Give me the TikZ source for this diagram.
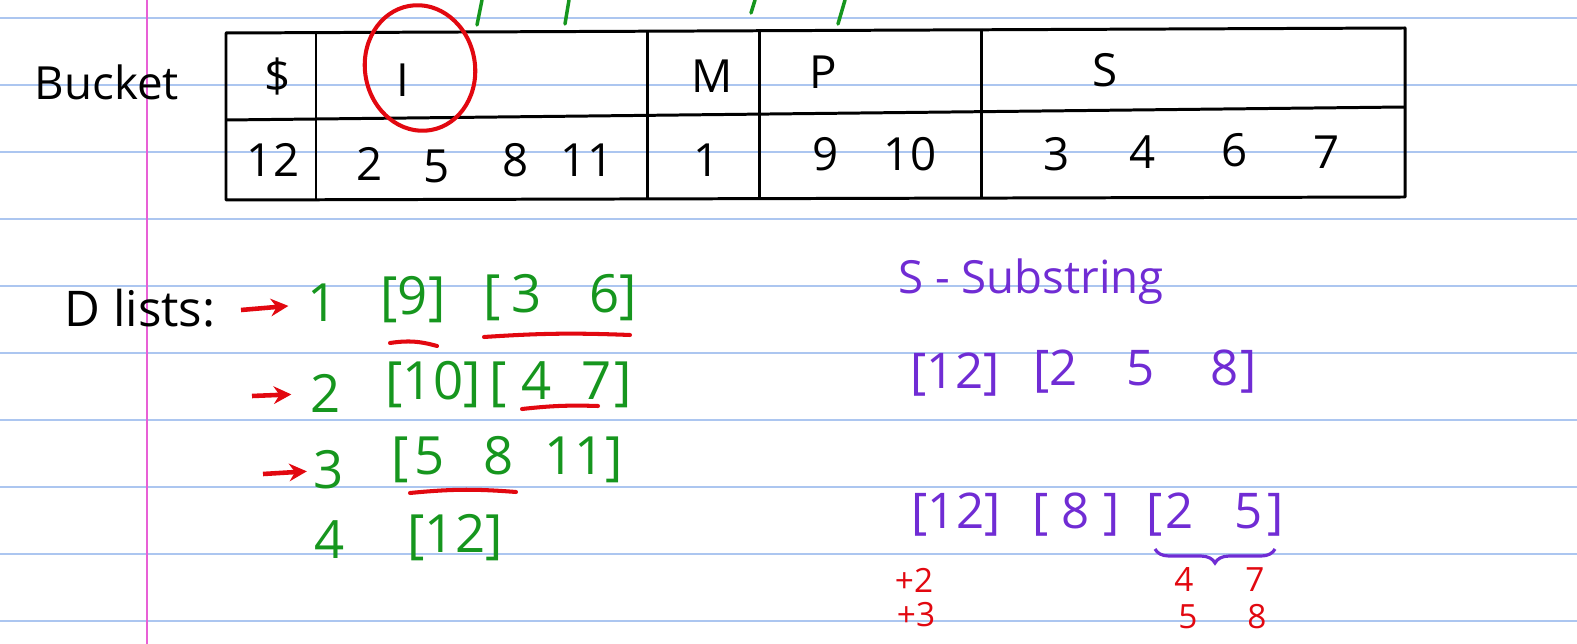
\documentclass[tikz,border=0pt]{standalone}
\usepackage{fontspec}
\setmainfont{Open Sans}
\usetikzlibrary{arrows.meta,decorations.pathreplacing}
\definecolor{ruleblue}{RGB}{172,198,240}
\definecolor{marginpink}{RGB}{232,96,214}
\definecolor{pengreen}{RGB}{22,150,30}
\definecolor{penred}{RGB}{226,8,16}
\definecolor{penpurple}{RGB}{112,44,212}
\begin{document}
\begin{tikzpicture}[x=0.02cm,y=-0.02cm]
\tikzset
{%定义笔迹样式
  rule/.style={ruleblue,line width=1.2pt},
  tab/.style={black,line width=1.7pt,line join=round},
  blk/.style={black,inner sep=1pt,font=\fontsize{26}{28}\selectfont},
  grn/.style={pengreen,inner sep=1pt,font=\fontsize{30}{32}\selectfont},
  pur/.style={penpurple,inner sep=1pt,font=\fontsize{28}{30}\selectfont},
  redsm/.style={penred,inner sep=1pt,font=\fontsize{19}{20}\selectfont},
  redpen/.style={penred,line width=2.3pt,line cap=round},
  redarrow/.style={penred,line width=2.6pt,-{Stealth[length=10pt,width=10pt]},shorten >=0.35cm},
}
\useasboundingbox (0,0) rectangle (1577,644);
\fill[white] (0,0) rectangle (1577,644);
\foreach \k in {0,...,9}
  \draw[rule] (0,18+67*\k) -- (1577,18+67*\k);
\draw[marginpink,line width=1.3pt] (147,0) -- (147,644);

% bucket table
\path[draw,pengreen,line width=2pt,line cap=round] (477,25) -- (482,0) (565,24) -- (569,0) (751,13) -- (755,0) (838,24) -- (845,0);
\draw[tab] (226,33) -- (1405,28) -- (1405,197) -- (226,200) -- cycle;
\draw[tab] (226,120) -- (1405,107);
\foreach \x/\a/\b in {316/32/200,647/31/199,759/31/199,981/29/198}
  \draw[tab] (\x,\a) -- (\x,\b);
\node[blk] (bucket) at (107,82) {Bucket};
\node[blk] (hd) at (278,77) {\$};
\node[blk] (hi) at (403,80) {I};
\node[blk] (hm) at (712,76) {M};
\node[blk] (hp) at (823,72) {P};
\node[blk] (hs) at (1105,70) {S};
\foreach \x/\y/\t [count=\i] in {273/160/12,370/164/2,437/166/5,516/160/8,587/160/11,707/160/1,
  826/154/9,910/154/10,1057/154/3,1143/152/4,1235/150/6,1327/152/7}
  \node[blk] (b\i) at (\x,\y) {\t};
\draw[redpen,rotate around={10:(420,68)}] (420,68) ellipse[x radius=55,y radius=63];

% D lists
\node[blk,font=\fontsize{28}{30}\selectfont] (dl) at (140,308) {D lists:};
\coordinate (a1) at (241,310);
\coordinate (a2) at (252,396);
\coordinate (a3) at (263,474);
\node[grn] (n1) at (323,303) {1};
\node[grn] (n2) at (326,393) {2};
\node[grn] (n3) at (329,470) {3};
\node[grn] (n4) at (330,540) {4};
\draw[redarrow] (a1) -- (n1);
\draw[redarrow] (a2) -- (n2);
\draw[redarrow,shorten >=0.1cm] (a3) -- (n3);
\node[grn] (d1a) at (413,300) {[9]};
\node[grn] (d1b) at (560,298) {[\hspace{6pt}3\hspace{27pt}6]};
\node[grn] (d2a) at (433,385) {[10]};
\node[grn] (d2b) at (561,385) {[\hspace{8pt}4\hspace{17pt}7\hspace{2pt}]};
\node[grn] (d3a) at (507,460) {[\hspace{3pt}5\hspace{22pt}8\hspace{18pt}11]};
\node[grn] (d4a) at (455,538) {[12]};
\draw[redpen] (390,343) to[bend left=12] (437,346);
\draw[redpen] (484,337) to[bend left=3] (630,335);
\draw[redpen] (522,409) to[bend left=4] (598,406);
\draw[redpen] (410,493) to[bend left=5] (516,492);

% S-substring
\node[pur,anchor=base west,font=\fontsize{26}{28}\selectfont] (ss) at (896,294) {S - Substring};
\node[pur] (s1a) at (955,375) {[12]};
\node[pur] (s1b) at (1145,372) {[2\hspace{28pt}5\hspace{32pt}8\hspace{1pt}]};
\node[pur] (s2a) at (956,515) {[12]};
\node[pur] (s2b) at (1076,515) {[\hspace{7pt}8\hspace{8pt}]};
\node[pur] (s2c) at (1215,515) {[\hspace{2pt}2\hspace{23pt}5\hspace{3pt}]};
\draw[penpurple,line width=1.8pt,decorate,decoration={brace,amplitude=8pt,mirror}] (1155,549) -- (1275,549);
\node[redsm] (p2) at (914,580) {+2};
\node[redsm] (p3) at (916,615) {+3};
\node[redsm] (r4) at (1184,580) {4};
\node[redsm] (r7) at (1255,580) {7};
\node[redsm] (r5) at (1188,617) {5};
\node[redsm] (r8) at (1257,617) {8};
\end{tikzpicture}
\end{document}
